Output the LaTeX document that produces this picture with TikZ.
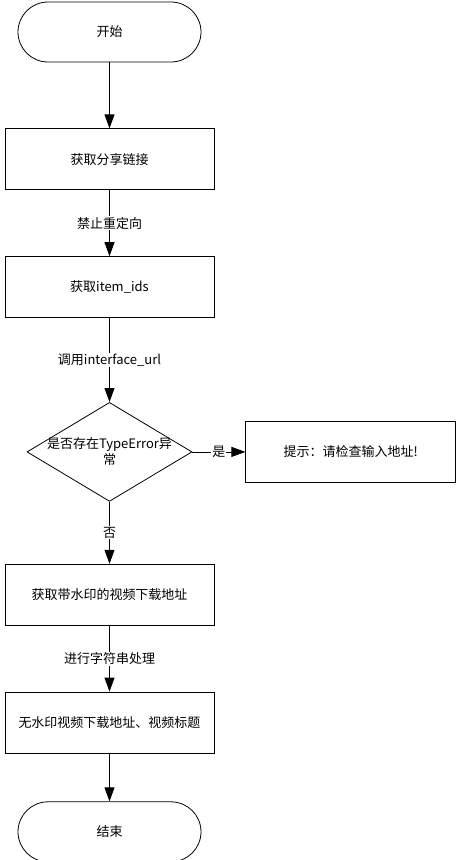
\documentclass[tikz,border=0pt]{standalone}
\usepackage{fontspec}
\setmainfont{Noto Sans CJK SC}
\usetikzlibrary{arrows.meta,positioning,shapes.geometric}

\begin{document}
\begin{tikzpicture}[x=1pt,y=-1pt,
  font=\fontsize{13pt}{16pt}\selectfont,
  line width=0.8pt,
  every node/.style={inner sep=0pt},
  termnode/.style={draw,rounded corners=30pt,minimum width=183pt,minimum height=60pt},
  procnode/.style={draw,minimum width=209pt,minimum height=61pt},
  decnode/.style={draw,diamond,minimum width=165pt,minimum height=99pt},
  edgelabel/.style={fill=white,inner sep=1pt},
  >={Triangle[length=14pt,width=10pt]}
  ]
  \useasboundingbox (0,0) rectangle (460,860);

  % the main column
  \node[termnode] (start) at (109.5,32) {开始};
  \node[procnode,below=66pt of start] (share) {获取分享链接};
  \node[procnode,below=66pt of share] (items) {获取item\_ids};
  \node[decnode,below=84pt of items,
    label={[align=center]center:是否存在TypeError异\\常}] (check) {};
  \node[procnode,below=62pt of check] (video) {获取带水印的视频下载地址};
  \node[procnode,below=66pt of video] (nowm) {无水印视频下载地址、视频标题};
  \node[termnode,below=48pt of nowm] (finish) {结束};

  % the error branch
  \node[procnode,minimum width=210pt,right=53pt of check] (hint) {提示：请检查输入地址!};

  % the edges
  \draw[->] (start) -- (share);
  \draw[->] (share) -- node[edgelabel] {禁止重定向} (items);
  \draw[->] (items) -- node[edgelabel] {调用interface\_url} (check);
  \draw[->] (check) -- node[edgelabel] {是} (hint);
  \draw[->] (check) -- node[edgelabel] {否} (video);
  \draw[->] (video) -- node[edgelabel] {进行字符串处理} (nowm);
  \draw[->] (nowm) -- (finish);
\end{tikzpicture}
\end{document}
